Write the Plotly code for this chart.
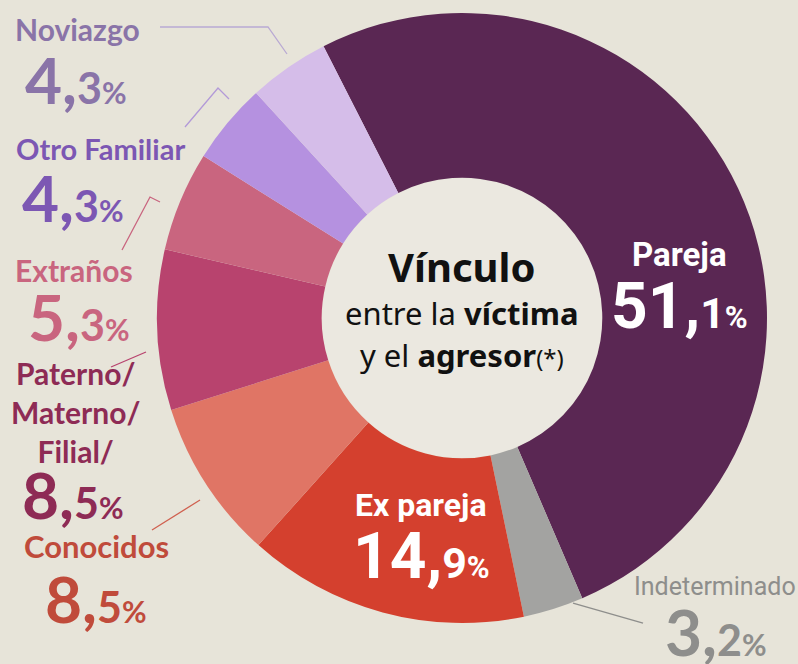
import plotly.graph_objects as go

W, H = 798, 664

labels = ["Pareja", "Indeterminado", "Ex pareja", "Conocidos",
          "Paterno/Materno/Filial", "Extraños", "Otro Familiar", "Noviazgo"]
values = [51.1, 3.2, 14.9, 8.5, 8.5, 5.3, 4.3, 4.3]
colors = ["#5a2753", "#a3a3a1", "#d4402e", "#e07565",
          "#b8436e", "#c9657f", "#b591e0", "#d5bde9"]
text_colors = {"Pareja": "#ffffff", "Indeterminado": "#8e8e8c", "Ex pareja": "#ffffff",
               "Conocidos": "#c04b3b", "Paterno/Materno/Filial": "#8e2b55",
               "Extraños": "#c9657f", "Otro Familiar": "#7c57b3", "Noviazgo": "#8a74a8"}
label_text = {"Pareja": "Pareja", "Indeterminado": "Indeterminado", "Ex pareja": "Ex pareja",
              "Conocidos": "Conocidos", "Paterno/Materno/Filial": "Paterno/<br>Materno/<br>Filial/",
              "Extraños": "Extraños", "Otro Familiar": "Otro Familiar", "Noviazgo": "Noviazgo"}
value_of = dict(zip(labels, values))

def px(x):
    return x / W

def py(y):
    return 1 - y / H

def pct_html(v, big, mid, small):
    s = f"{v:.1f}".split(".")
    return (f"<span style='font-size:{big}px'>{s[0]},</span>"
            f"<span style='font-size:{mid}px'>{s[1]}</span>"
            f"<span style='font-size:{small}px'>%</span>")

fig = go.Figure()
fig.add_trace(go.Pie(
    labels=labels, values=values, sort=False, direction="clockwise",
    rotation=-27, hole=0.46, textinfo="none",
    marker=dict(colors=colors, line=dict(width=0)),
    domain=dict(x=[px(157), px(767)], y=[py(623), py(13)]),
    showlegend=False,
))

# centre circle (slightly lighter)
cx, cy, rh = 462, 318, 140
shapes = [dict(type="circle", xref="paper", yref="paper", layer="below",
               x0=px(cx - rh), x1=px(cx + rh), y0=py(cy + rh), y1=py(cy - rh),
               fillcolor="#ebe8e0", line=dict(width=0))]

def poly(pts, color):
    path = "M " + " L ".join(f"{px(a)},{py(b)}" for a, b in pts)
    shapes.append(dict(type="path", xref="paper", yref="paper", path=path,
                       line=dict(color=color, width=1.3)))

poly([(160, 27), (268, 27), (287, 54)], "#b9a9d3")
poly([(185, 127), (218, 88), (229, 99)], "#b39ad8")
poly([(122, 250), (150, 197), (160, 202)], "#c9657f")
poly([(111, 367), (146, 352)], "#b8436e")
poly([(152, 530), (200, 500)], "#d0604f")
poly([(573, 603), (643, 623)], "#8e8e8c")

ann = []
OUT_FONT = "Lato"

def add(text, x, y, color, size, family=OUT_FONT, xanchor="center", weight="bold"):
    t = f"<b>{text}</b>" if weight == "bold" else text
    ann.append(dict(text=t, x=px(x), y=py(y), xref="paper", yref="paper",
                    xanchor=xanchor, yanchor="middle", showarrow=False,
                    font=dict(family=family, size=size, color=color)))

def outside(name, lx, ly, vx, vy, size=30):
    c = text_colors[name]
    add(label_text[name], lx, ly, c, size)
    add(pct_html(value_of[name], 64, 43, 30), vx, vy, c, 64)

outside("Noviazgo", 77, 29, 76, 80)
outside("Otro Familiar", 100, 148, 73, 198, size=29)
outside("Extraños", 74, 270, 79, 317)
outside("Paterno/Materno/Filial", 75, 412, 73, 494)
outside("Conocidos", 96, 546, 96, 598, size=31)

add(label_text["Indeterminado"], 715, 586, text_colors["Indeterminado"], 25,
    family="Roboto", weight="normal")
add(pct_html(value_of["Indeterminado"], 64, 43, 30), 716, 631, text_colors["Indeterminado"], 64)

# inside labels
add(label_text["Pareja"], 679, 254, "#ffffff", 33, family="Roboto")
add(pct_html(value_of["Pareja"], 64, 43, 31), 679, 306, "#ffffff", 64, family="Roboto")
add(label_text["Ex pareja"], 421, 505, "#ffffff", 32, family="Roboto")
add(pct_html(value_of["Ex pareja"], 64, 43, 31), 421, 556, "#ffffff", 64, family="Roboto")

# centre title
ann.append(dict(
    text="<b>Vínculo</b>", x=px(462), y=py(266), xref="paper", yref="paper",
    showarrow=False, xanchor="center", yanchor="middle",
    font=dict(family="Noto Sans", size=40, color="#111111")))
ann.append(dict(
    text="entre la <b>víctima</b>", x=px(462), y=py(313), xref="paper", yref="paper",
    showarrow=False, xanchor="center", yanchor="middle",
    font=dict(family="Noto Sans", size=31, color="#111111")))
ann.append(dict(
    text="y el <b>agresor</b><span style='font-size:24px'>(*)</span>", x=px(462), y=py(355),
    xref="paper", yref="paper", showarrow=False, xanchor="center", yanchor="middle",
    font=dict(family="Noto Sans", size=31, color="#111111")))

fig.update_layout(
    width=W, height=H, margin=dict(l=0, r=0, t=0, b=0),
    paper_bgcolor="#e7e4d9", plot_bgcolor="#e7e4d9",
    shapes=shapes, annotations=ann,
)

fig.write_html("out.html", config={"displayModeBar": False},
               post_script="document.body.style.margin='0';document.body.style.overflow='hidden';")
